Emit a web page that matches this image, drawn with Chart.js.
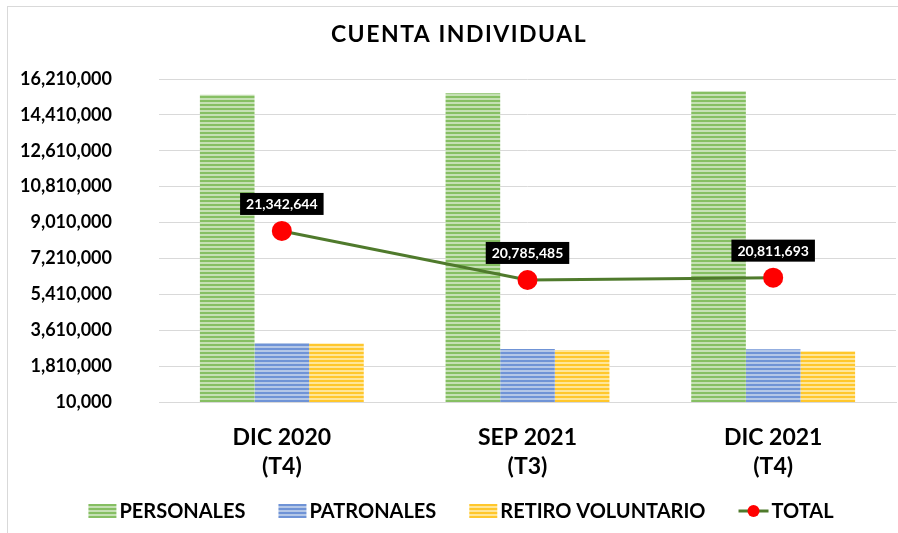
<!DOCTYPE html>
<html>
<head>
<meta charset="utf-8">
<script src="https://cdn.jsdelivr.net/npm/chart.js@4.4.1/dist/chart.umd.min.js"></script>
<style>
  html, body { margin: 0; padding: 0; background: #fff; }
  #wrap { position: relative; width: 898px; height: 533px; }
</style>
</head>
<body>
<div id="wrap"><canvas id="c" width="898" height="533"></canvas></div>
<script>
const categories = [['DIC 2020', '(T4)'], ['SEP 2021', '(T3)'], ['DIC 2021', '(T4)']];
const personales = [15420000, 15500000, 15600000];
const patronales = [2970000, 2670000, 2660000];
const retiroVoluntario = [2950000, 2615000, 2550000];
const total = [21342644, 20785485, 20811693];
const seriesNames = ['PERSONALES', 'PATRONALES', 'RETIRO VOLUNTARIO', 'TOTAL'];
const chartTitle = 'CUENTA INDIVIDUAL';

const FONT = 'Lato, "Open Sans", sans-serif';

function stripePattern(dark, light) {
  const c = document.createElement('canvas');
  c.width = 8; c.height = 4;
  const x = c.getContext('2d');
  x.fillStyle = light; x.fillRect(0, 0, 8, 4);
  x.fillStyle = dark; x.fillRect(0, 0, 8, 2);
  return x.createPattern(c, 'repeat');
}

const colors = {
  green: ['#86BF63', '#C5E0B4'],
  blue: ['#6F93D6', '#B4C7E7'],
  yellow: ['#FFC72C', '#FFE699']
};
const palette = [colors.green, colors.blue, colors.yellow];
const LINE_COLOR = '#4F7A2C';
const DOT_COLOR = '#FF0000';

const framePlugin = {
  id: 'frame',
  beforeDraw(chart) {
    const ctx = chart.ctx;
    ctx.save();
    ctx.fillStyle = '#fff';
    ctx.fillRect(0, 0, chart.width, chart.height);
    ctx.strokeStyle = '#D9D9D9';
    ctx.lineWidth = 1;
    ctx.strokeRect(7.5, 6.5, 900, 540);
    ctx.restore();
  },
  afterDraw(chart) {
    const ctx = chart.ctx;
    ctx.save();
    // title
    ctx.font = 'bold 23px ' + FONT;
    ctx.letterSpacing = '1.5px';
    ctx.fillStyle = '#000';
    ctx.textAlign = 'center';
    ctx.textBaseline = 'middle';
    ctx.fillText(chartTitle, 459, 35);
    ctx.letterSpacing = '0px';
    // legend
    ctx.font = 'bold 20px ' + FONT;
    ctx.textAlign = 'left';
    const swW = [28, 28, 28, 30];
    const gapBox = 3, gapItem = 33;
    const widths = seriesNames.map((n, i) => swW[i] + gapBox + ctx.measureText(n).width);
    const totalW = widths.reduce((a, b) => a + b, 0) + gapItem * (seriesNames.length - 1);
    let x = 461 - totalW / 2;
    const cy = 511;
    seriesNames.forEach((n, i) => {
      if (i < 3) {
        const [dark, light] = palette[i];
        for (let r = 0; r < 14; r++) {
          ctx.fillStyle = (r % 4 < 2) ? dark : light;
          ctx.fillRect(x, cy - 7 + r, 28, 1);
        }
      } else {
        ctx.strokeStyle = LINE_COLOR; ctx.lineWidth = 3;
        ctx.beginPath(); ctx.moveTo(x, cy); ctx.lineTo(x + 30, cy); ctx.stroke();
        ctx.fillStyle = DOT_COLOR;
        ctx.beginPath(); ctx.arc(x + 15, cy, 6, 0, Math.PI * 2); ctx.fill();
      }
      ctx.fillStyle = '#000';
      ctx.fillText(n, x + swW[i] + gapBox, cy + 1);
      x += widths[i] + gapItem;
    });
    ctx.restore();
  }
};

const labelPlugin = {
  id: 'totalLabels',
  afterDatasetsDraw(chart) {
    const ctx = chart.ctx;
    const meta = chart.getDatasetMeta(3);
    ctx.save();
    ctx.font = 'bold 14px ' + FONT;
    ctx.textAlign = 'center';
    ctx.textBaseline = 'middle';
    meta.data.forEach((pt, i) => {
      const txt = total[i].toLocaleString('en-US');
      const w = ctx.measureText(txt).width + 12;
      const h = 22;
      const cx = pt.x, cy = pt.y - 27;
      ctx.fillStyle = '#000';
      ctx.fillRect(cx - w / 2, cy - h / 2, w, h);
      ctx.fillStyle = '#fff';
      ctx.fillText(txt, cx, cy + 1);
    });
    ctx.restore();
  }
};

new Chart(document.getElementById('c'), {
  data: {
    labels: categories,
    datasets: [
      { type: 'bar', label: seriesNames[0], data: personales, backgroundColor: stripePattern(...colors.green), yAxisID: 'y', order: 1 },
      { type: 'bar', label: seriesNames[1], data: patronales, backgroundColor: stripePattern(...colors.blue), yAxisID: 'y', order: 1 },
      { type: 'bar', label: seriesNames[2], data: retiroVoluntario, backgroundColor: stripePattern(...colors.yellow), yAxisID: 'y', order: 1 },
      { type: 'line', label: seriesNames[3], data: total, yAxisID: 'y2', order: 0,
        borderColor: LINE_COLOR, borderWidth: 3, pointRadius: 10, pointHoverRadius: 10,
        pointBackgroundColor: DOT_COLOR, pointBorderColor: DOT_COLOR, pointBorderWidth: 0, tension: 0 }
    ]
  },
  options: {
    responsive: false,
    animation: false,
    devicePixelRatio: 1,
    layout: { autoPadding: false, padding: { top: 79, left: 10, right: 2, bottom: 40 } },
    datasets: { bar: { categoryPercentage: 0.667, barPercentage: 1.0 } },
    plugins: {
      title: { display: false },
      tooltip: { enabled: false },
      legend: { display: false }
    },
    scales: {
      x: {
        grid: { display: false },
        border: { display: true, color: '#D9D9D9', width: 1 },
        ticks: { color: '#000', font: { family: FONT, size: 23, weight: 'bold', lineHeight: 1.26 }, padding: 13, maxRotation: 0 },
        afterFit(s) { s.height = 91; }
      },
      y: {
        min: 10000, max: 16210000,
        ticks: { stepSize: 1800000, color: '#000', padding: 47,
          font: { family: FONT, size: 18, weight: 'bold' },
          callback: v => Number(v).toLocaleString('en-US') },
        grid: { color: '#D9D9D9', lineWidth: 1, drawTicks: false },
        border: { display: false },
        afterFit(s) { s.width = 149; }
      },
      y2: {
        display: false,
        position: 'right',
        min: 19398000, max: 23070000
      }
    }
  },
  plugins: [framePlugin, labelPlugin]
});
</script>
</body>
</html>
